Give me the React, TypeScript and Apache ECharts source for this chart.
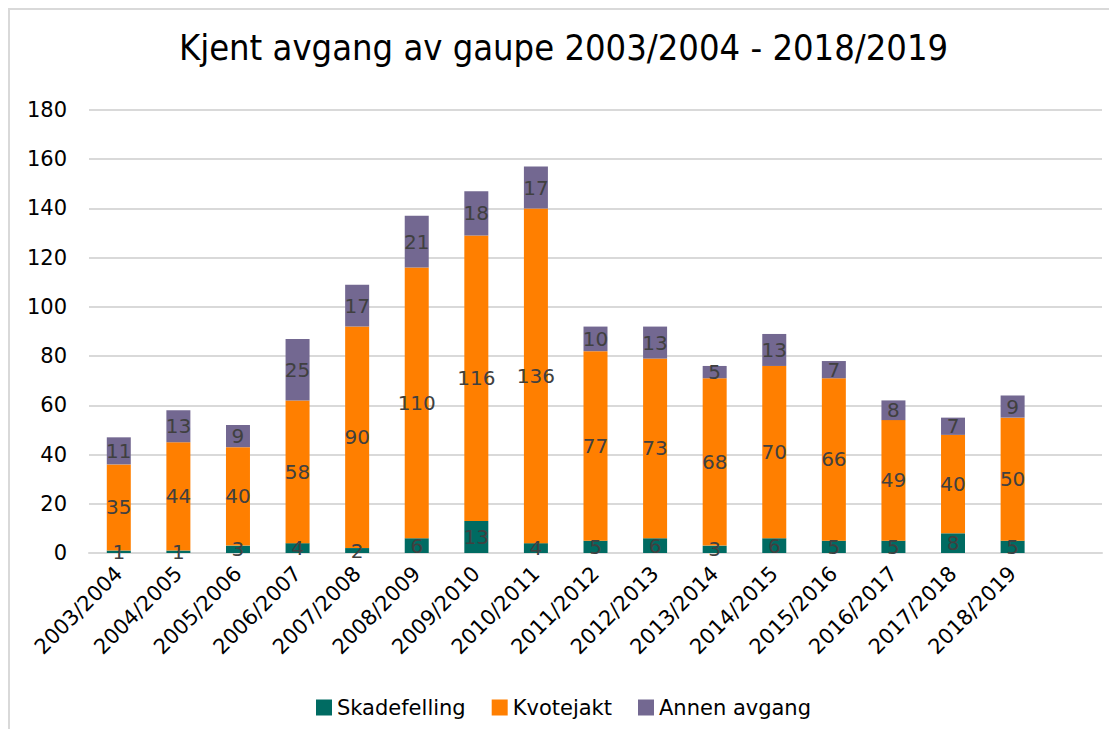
import React, { useEffect, useRef } from "react";
import * as echarts from "echarts";

const categories = [
  "2003/2004", "2004/2005", "2005/2006", "2006/2007", "2007/2008", "2008/2009",
  "2009/2010", "2010/2011", "2011/2012", "2012/2013", "2013/2014", "2014/2015",
  "2015/2016", "2016/2017", "2017/2018", "2018/2019", "",
];
const skadefelling = [1, 1, 3, 4, 2, 6, 13, 4, 5, 6, 3, 6, 5, 5, 8, 5];
const kvotejakt = [35, 44, 40, 58, 90, 110, 116, 136, 77, 73, 68, 70, 66, 49, 40, 50];
const annenAvgang = [11, 13, 9, 25, 17, 21, 18, 17, 10, 13, 5, 13, 7, 8, 7, 9];
const yTicks = { min: 0, max: 180, interval: 20 };

const FONT = "'DejaVu Sans', Verdana, sans-serif";

export default function App() {
  const ref = useRef<HTMLDivElement>(null);
  useEffect(() => {
    if (!ref.current) return;
    const chart = echarts.init(ref.current, undefined, { renderer: "svg" });
    const label = {
      show: true,
      position: "inside",
      color: "#404040",
      fontSize: 20,
      fontFamily: FONT,
    };
    const mk = (name: string, data: number[], color: string) => ({
      name,
      type: "bar",
      stack: "total",
      data,
      barWidth: 24,
      itemStyle: { color },
      label,
      emphasis: { disabled: true },
    });
    chart.setOption({
      animation: false,
      textStyle: { fontFamily: FONT },
      title: {
        text: "Kjent avgang av gaupe 2003/2004 - 2018/2019",
        left: "center",
        top: 14,
        textStyle: {
          fontFamily: "'DejaVu Sans Condensed', 'DejaVu Sans', sans-serif",
          fontSize: 36,
          fontWeight: "normal",
          color: "#000",
        },
      },
      legend: {
        bottom: 6,
        left: "center",
        itemWidth: 16,
        itemHeight: 16,
        itemGap: 26,
        icon: "rect",
        textStyle: { fontSize: 21, color: "#000", fontFamily: FONT },
        data: ["Skadefelling", "Kvotejakt", "Annen avgang"],
      },
      grid: { left: 79, right: 15, top: 100, bottom: 176, containLabel: false },
      xAxis: {
        type: "category",
        data: categories,
        axisLine: { lineStyle: { color: "#d9d9d9", width: 2 } },
        axisTick: { show: false },
        axisLabel: {
          rotate: 45,
          fontSize: 21,
          color: "#000",
          interval: 0,
          margin: 17,
          fontFamily: FONT,
        },
      },
      yAxis: {
        type: "value",
        min: yTicks.min,
        max: yTicks.max,
        interval: yTicks.interval,
        axisLine: { show: false },
        axisTick: { show: false },
        axisLabel: { fontSize: 21, color: "#000", margin: 22, fontFamily: FONT },
        splitLine: { lineStyle: { color: "#d9d9d9", width: 2 } },
      },
      series: [
        mk("Skadefelling", skadefelling, "#006b62"),
        mk("Kvotejakt", kvotejakt, "#ff7f00"),
        mk("Annen avgang", annenAvgang, "#736891"),
      ],
    });
    return () => chart.dispose();
  }, []);
  return (
    <div
      style={{
        width: 1109,
        height: 721,
        borderLeft: "2px solid #d9d9d9",
        borderTop: "2px solid #d9d9d9",
        boxSizing: "border-box",
        background: "#fff",
      }}
    >
      <div ref={ref} style={{ width: 1107, height: 719 }} />
    </div>
  );
}
